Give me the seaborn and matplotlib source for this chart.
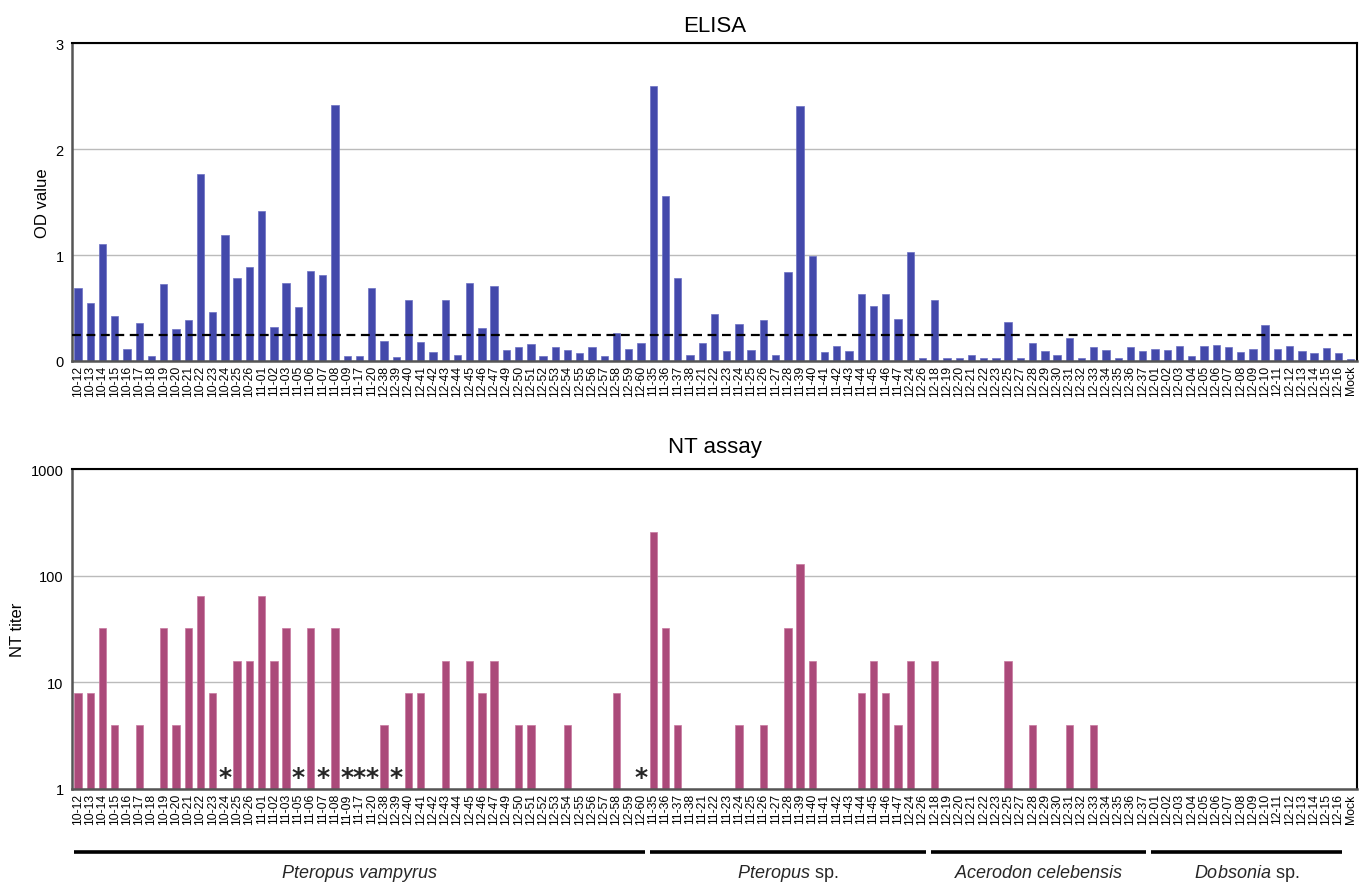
import numpy as np
import pandas as pd
import matplotlib
matplotlib.use('Agg')
import matplotlib.pyplot as plt
import matplotlib.transforms as mtransforms
from matplotlib.ticker import FixedLocator, FixedFormatter
import seaborn as sns

# 샘플 ID (상단/하단 그래프 공통)
samples = ['10-12', '10-13', '10-14', '10-15', '10-16', '10-17', '10-18', '10-19', '10-20', '10-21',
           '10-22', '10-23', '10-24', '10-25', '10-26', '11-01', '11-02', '11-03', '11-05', '11-06',
           '11-07', '11-08', '11-09', '11-17', '11-20', '12-38', '12-39', '12-40', '12-41', '12-42',
           '12-43', '12-44', '12-45', '12-46', '12-47', '12-49', '12-50', '12-51', '12-52', '12-53',
           '12-54', '12-55', '12-56', '12-57', '12-58', '12-59', '12-60', '11-35', '11-36', '11-37',
           '11-38', '11-21', '11-22', '11-23', '11-24', '11-25', '11-26', '11-27', '11-28', '11-39',
           '11-40', '11-41', '11-42', '11-43', '11-44', '11-45', '11-46', '11-47', '12-24', '12-26',
           '12-18', '12-19', '12-20', '12-21', '12-22', '12-23', '12-25', '12-27', '12-28', '12-29',
           '12-30', '12-31', '12-32', '12-33', '12-34', '12-35', '12-36', '12-37', '12-01', '12-02',
           '12-03', '12-04', '12-05', '12-06', '12-07', '12-08', '12-09', '12-10', '12-11', '12-12',
           '12-13', '12-14', '12-15', '12-16', 'Mock']

# ELISA OD 값
od_values = [0.69, 0.55, 1.10, 0.42, 0.11, 0.36, 0.05, 0.73, 0.30, 0.39,
             1.77, 0.46, 1.19, 0.78, 0.89, 1.42, 0.32, 0.74, 0.51, 0.85,
             0.81, 2.42, 0.05, 0.05, 0.69, 0.19, 0.04, 0.58, 0.18, 0.08,
             0.58, 0.06, 0.74, 0.31, 0.71, 0.10, 0.13, 0.16, 0.05, 0.13,
             0.10, 0.07, 0.13, 0.05, 0.26, 0.11, 0.17, 2.60, 1.56, 0.78,
             0.06, 0.17, 0.44, 0.09, 0.35, 0.10, 0.39, 0.06, 0.84, 2.41,
             0.99, 0.08, 0.14, 0.09, 0.63, 0.52, 0.63, 0.40, 1.03, 0.03,
             0.58, 0.03, 0.03, 0.06, 0.03, 0.03, 0.37, 0.03, 0.17, 0.09,
             0.06, 0.22, 0.03, 0.13, 0.10, 0.03, 0.13, 0.09, 0.11, 0.10,
             0.14, 0.05, 0.14, 0.15, 0.13, 0.08, 0.11, 0.34, 0.11, 0.14,
             0.09, 0.07, 0.12, 0.07, 0.02]
cutoff = 0.243

# NT 역가 (1 = 검출 안 됨)
nt_values = [8, 8, 32, 4, 1, 4, 1, 32, 4, 32,
             64, 8, 1, 16, 16, 64, 16, 32, 1, 32,
             1, 32, 1, 1, 1, 4, 1, 8, 8, 1,
             16, 1, 16, 8, 16, 1, 4, 4, 1, 1,
             4, 1, 1, 1, 8, 1, 1, 256, 32, 4,
             1, 1, 1, 1, 4, 1, 4, 1, 32, 128,
             16, 1, 1, 1, 8, 16, 8, 4, 16, 1,
             16, 1, 1, 1, 1, 1, 16, 1, 4, 1,
             1, 4, 1, 4, 1, 1, 1, 1, 1, 1,
             1, 1, 1, 1, 1, 1, 1, 1, 1, 1,
             1, 1, 1, 1, 1]
star_samples = ['10-24', '11-05', '11-07', '11-09', '11-17', '11-20', '12-39', '12-60']

# 종(species) 그룹
group_labels = [r'$\it{Pteropus\ vampyrus}$', r'$\it{Pteropus}$ sp.',
                r'$\it{Acerodon\ celebensis}$', r'$\it{Dobsonia}$ sp.']
group_first = ['10-12', '11-35', '12-18', '12-01']
group_last = ['12-60', '12-26', '12-37', '12-16']

df = pd.DataFrame({'sample': samples, 'od': od_values, 'nt': nt_values})

sns.set_style('white')
plt.rcParams['font.family'] = ['Liberation Sans', 'DejaVu Sans']
plt.rcParams['mathtext.fontset'] = 'custom'
plt.rcParams['mathtext.it'] = 'Liberation Sans:italic'
plt.rcParams['mathtext.rm'] = 'Liberation Sans'

fig = plt.figure(figsize=(13.65, 8.87), dpi=100)
ax1 = fig.add_axes([0.0527, 0.592, 0.9414, 0.358])
ax2 = fig.add_axes([0.0527, 0.1094, 0.9414, 0.3606])

n = len(samples)
bounds = np.arange(n + 1) - 0.5


def style_axis(ax):
    ax.set_xlim(-0.5, n - 0.5)
    ax.set_xlabel('')
    ax.grid(axis='y', color='#bbbbbb', linewidth=1)
    ax.set_axisbelow(True)
    for side in ['top', 'right']:
        ax.spines[side].set_color('black')
        ax.spines[side].set_linewidth(1.5)
    for side in ['left', 'bottom']:
        ax.spines[side].set_color('#555555')
        ax.spines[side].set_linewidth(1.8)
    ax.tick_params(axis='x', which='major', length=0, labelsize=8.8, pad=3, rotation=90,
                   labelcolor='black')
    ax.xaxis.set_minor_locator(FixedLocator(bounds))
    ax.tick_params(axis='x', which='minor', direction='in', length=3, color='#999999', width=0.8)
    ax.tick_params(axis='y', labelsize=10.5, length=0, pad=6, labelcolor='black')


# ELISA
sns.barplot(data=df, x='sample', y='od', color='#4349ab', saturation=1, width=0.6,
            errorbar=None, edgecolor='#6b70c4', linewidth=0.5, ax=ax1)
ax1.axhline(cutoff, color='black', linestyle=(0, (4, 2.5)), linewidth=1.6, zorder=5)
ax1.set_ylim(0, 3)
ax1.set_yticks([0, 1, 2, 3])
style_axis(ax1)
ax1.set_ylabel('OD value', fontsize=12, color='black')
ax1.set_title('ELISA', fontsize=16, pad=9, color='black')

# NT assay
sns.barplot(data=df, x='sample', y='nt', color='#ab4a7a', saturation=1, width=0.6,
            errorbar=None, edgecolor='#c878a0', linewidth=0.5, ax=ax2)
ax2.set_yscale('log')
ax2.set_ylim(1, 1000)
ax2.yaxis.set_major_locator(FixedLocator([1, 10, 100, 1000]))
ax2.yaxis.set_major_formatter(FixedFormatter(['1', '10', '100', '1000']))
ax2.yaxis.set_minor_locator(FixedLocator([]))
style_axis(ax2)
ax2.set_ylabel('NT titer', fontsize=12, color='black')
ax2.set_title('NT assay', fontsize=16, pad=12, color='black')

for s in star_samples:
    ax2.text(samples.index(s), 1.3, '*', ha='center', va='center', fontsize=18,
             fontweight='bold', family=['DejaVu Sans'])

# 종 구분선과 이름
trans = mtransforms.blended_transform_factory(ax2.transData, ax2.transAxes)
for label, first, last in zip(group_labels, group_first, group_last):
    i0 = samples.index(first)
    i1 = samples.index(last)
    ax2.plot([i0 - 0.3, i1 + 0.3], [-0.197, -0.197], color='black', linewidth=2.6,
             transform=trans, clip_on=False, solid_capstyle='butt')
    ax2.text((i0 + i1) / 2, -0.262, label, ha='center', va='center', fontsize=13,
             transform=trans)

fig.savefig('out.png', dpi=100)
